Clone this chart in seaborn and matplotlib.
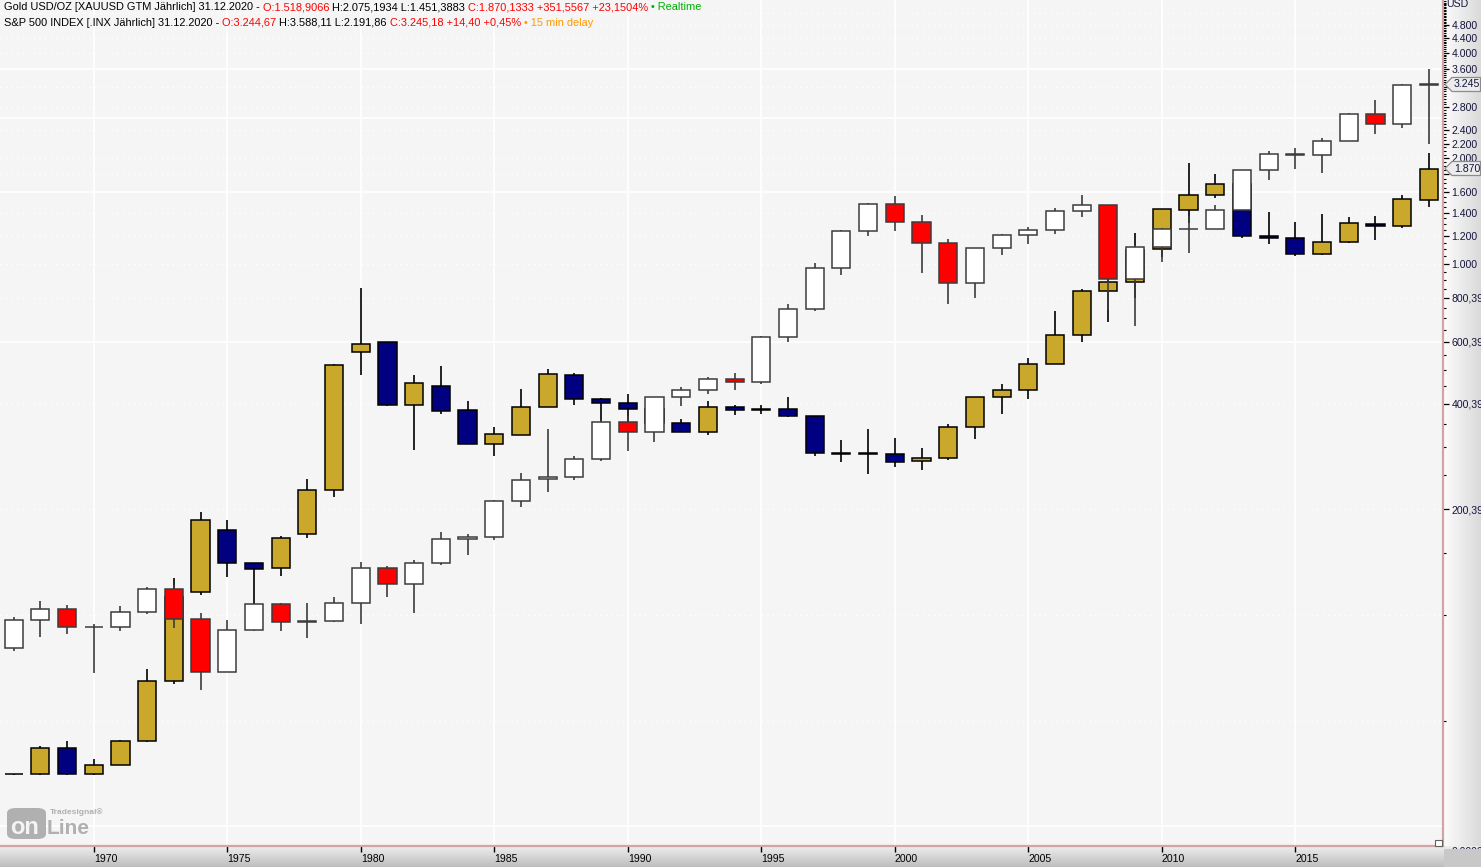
import matplotlib
matplotlib.use("Agg")
import numpy as np
import pandas as pd
import seaborn as sns
import matplotlib.pyplot as plt
from matplotlib.patches import Polygon, Rectangle, FancyBboxPatch
from matplotlib.colors import LinearSegmentedColormap

# ---------------- data (yearly candles) ----------------
years = list(range(1967, 2021))

gold_open = [35.2, 35.2, 41.9, 35.2, 37.4, 43.6, 64.9, 116.0, 175.0, 140.3,
             135.9, 169.8, 226.6, 560.0, 598.0, 395.8, 449.0, 383.0, 307.5, 326.0,
             390.0, 484.0, 411.0, 401.0, 386.0, 353.0, 331.0, 391.0, 383.0, 387.0,
             369.0, 289.0, 288.0, 288.0, 274.0, 279.7, 342.6, 417.4, 437.0, 518.0,
             627.0, 836.0, 887.0, 1101.0, 1425.0, 1571.0, 1688.0, 1205.0, 1184.0, 1066.0,
             1153.0, 1302.0, 1281.0, 1518.9]
gold_high = [35.3, 42.4, 43.7, 38.8, 43.9, 70.0, 127.0, 196.0, 186.0, 140.5,
             168.0, 244.0, 518.0, 852.0, 600.0, 483.0, 512.0, 407.0, 343.0, 440.5,
             503.0, 487.5, 416.0, 426.5, 403.0, 362.0, 406.0, 396.0, 397.0, 417.0,
             369.5, 315.0, 338.6, 318.6, 298.6, 350.0, 417.4, 455.0, 539.5, 734.5,
             848.0, 1011.0, 1227.0, 1433.0, 1934.0, 1802.0, 1696.0, 1405.0, 1315.0, 1390.0,
             1357.0, 1366.0, 1571.0, 2075.2]
gold_low = [35.1, 35.0, 35.0, 34.9, 37.3, 43.5, 63.5, 114.0, 128.5, 105.0,
            129.4, 166.0, 217.0, 481.0, 393.0, 295.0, 372.5, 307.5, 284.0, 326.0,
            390.0, 395.3, 355.6, 346.0, 344.0, 331.0, 326.0, 370.0, 373.0, 367.5,
            283.0, 273.4, 252.8, 263.8, 258.4, 276.0, 318.0, 374.0, 411.0, 518.0,
            600.0, 685.0, 801.0, 1044.0, 1308.0, 1540.0, 1187.0, 1138.0, 1052.0, 1060.0,
            1150.0, 1168.0, 1267.0, 1451.4]
gold_close = [35.2, 41.9, 35.2, 37.4, 43.6, 64.9, 112.3, 186.5, 140.2, 134.8,
              165.4, 226.6, 514.0, 590.0, 397.5, 457.3, 382.0, 307.7, 327.4, 391.0,
              485.0, 411.0, 401.0, 387.0, 353.0, 333.0, 391.0, 383.0, 387.0, 369.0,
              289.0, 288.0, 288.5, 272.6, 279.7, 342.6, 417.4, 437.0, 518.0, 627.0,
              836.0, 887.0, 1096.0, 1432.0, 1571.0, 1688.0, 1204.0, 1184.0, 1066.0, 1153.0,
              1306.0, 1281.0, 1530.0, 1870.1]

spx_open = [80.4, 96.6, 103.9, 92.5, 92.6, 101.9, 118.4, 97.6, 68.7, 90.4,
            107.3, 95.7, 96.1, 108.0, 135.9, 122.6, 140.6, 164.9, 167.2, 211.3,
            244.4, 246.8, 277.9, 354.0, 331.0, 417.0, 437.0, 469.4, 460.0, 619.0,
            743.0, 972.0, 1239.0, 1480.0, 1320.0, 1148.0, 879.8, 1111.9, 1211.9, 1248.3,
            1418.3, 1468.4, 903.3, 1115.1, 1257.6, 1257.6, 1426.2, 1848.4, 2058.9, 2043.9,
            2238.8, 2673.6, 2506.9, 3244.67]
spx_high = [98.6, 109.7, 106.7, 94.2, 106.0, 120.4, 121.7, 101.4, 96.8, 107.8,
            108.0, 108.0, 112.2, 141.4, 138.1, 143.0, 172.7, 170.4, 212.0, 254.0,
            338.8, 283.7, 359.8, 369.8, 417.1, 446.0, 475.0, 489.0, 624.0, 770.0,
            1007.0, 1252.0, 1496.0, 1563.0, 1383.0, 1177.0, 1112.6, 1217.3, 1273.0, 1440.0,
            1576.1, 1471.8, 1130.4, 1262.6, 1370.6, 1474.5, 1849.0, 2093.6, 2134.7, 2277.5,
            2695.0, 2940.9, 3247.9, 3588.11]
spx_low = [78.9, 86.7, 88.3, 68.5, 89.7, 100.9, 91.5, 61.0, 68.6, 90.0,
           89.8, 86.1, 95.4, 94.1, 112.8, 101.4, 138.3, 147.8, 163.4, 203.5,
           224.0, 243.0, 275.0, 293.0, 310.7, 393.7, 425.0, 437.0, 455.0, 600.0,
           734.0, 927.0, 1198.0, 1245.0, 945.0, 768.6, 800.7, 1060.7, 1137.0, 1219.0,
           1364.0, 741.0, 666.8, 1010.9, 1074.8, 1258.9, 1426.2, 1737.9, 1867.0, 1810.1,
           2245.1, 2346.6, 2444.0, 2191.86]
spx_close = [96.6, 103.8, 92.5, 92.6, 101.9, 118.4, 97.6, 68.7, 90.4, 107.3,
             95.7, 96.1, 108.0, 135.9, 122.6, 140.6, 164.9, 167.2, 211.3, 242.2,
             246.8, 277.9, 354.0, 331.0, 417.0, 437.0, 469.4, 460.0, 619.0, 743.0,
             972.0, 1239.0, 1480.0, 1320.0, 1148.0, 879.8, 1111.9, 1211.9, 1248.3, 1418.3,
             1468.4, 903.3, 1115.1, 1257.6, 1257.6, 1426.2, 1848.4, 2058.9, 2043.9, 2238.8,
             2673.6, 2506.9, 3230.8, 3245.18]

x_tick_years = [1970, 1975, 1980, 1985, 1990, 1995, 2000, 2005, 2010, 2015]
y_label_values = [4800, 4400, 4000, 3600, 3200, 2800, 2400, 2200, 2000, 1800,
                  1600, 1400, 1200, 1000, 800, 600, 400, 200]
y_label_texts = ["4.800", "4.400", "4.000", "3.600", "", "2.800", "2.400", "2.200",
                 "2.000", "", "1.600", "1.400", "1.200", "1.000", "800,39",
                 "600,39", "400,39", "200,39"]
grid_solid_values = [25, 600, 1600, 2600, 3600]
grid_dotted_values = [50, 100, 200, 400, 800, 1000, 1200, 1400, 1800, 2000, 2400,
                      2800, 3200, 4000, 4400, 4800, 5200]
last_gold = 1870.1333
last_spx = 3245.18

header1 = [("Gold USD/OZ [XAUUSD GTM Jährlich] 31.12.2020 - ", "#000000"),
           ("O:1.518,9066 ", "#FF0000"),
           ("H:2.075,1934 L:1.451,3883 ", "#000000"),
           ("C:1.870,1333 +351,5567 +23,1504% ", "#FF0000"),
           ("\u2022 Realtime", "#00B000")]
header2 = [("S&P 500 INDEX [.INX Jährlich] 31.12.2020 - ", "#000000"),
           ("O:3.244,67 ", "#FF0000"),
           ("H:3.588,11 L:2.191,86 ", "#000000"),
           ("C:3.245,18 +14,40 +0,45% ", "#FF0000"),
           ("\u2022 15 min delay", "#FF9900")]

# ---------------- styling ----------------
sns.set_theme(style="white")
FONT = ["Liberation Sans", "DejaVu Sans"]
plt.rcParams["font.family"] = FONT
FS = 7.6
FS_HEAD = 7.9

GOLD = "#C9A82B"
NAVY = "#000080"
RED = "#FF0000"
BG = "#F5F5F5"

W, H = 1481, 867
PLOT_R, PLOT_B = 1443, 846


def fx(x):
    return x / W


def fy(y):
    return 1 - y / H


fig = plt.figure(figsize=(W / 100, H / 100), dpi=100)
fig.patch.set_facecolor(BG)

# right axis panel gradient
rp = fig.add_axes([fx(PLOT_R), fy(PLOT_B), 1 - fx(PLOT_R), fy(0) - fy(PLOT_B)], zorder=0)
rp.imshow(np.linspace(0, 1, 64)[None, :],
          cmap=LinearSegmentedColormap.from_list("g", ["#FCFCFC", "#DADADA"]),
          aspect="auto", extent=[0, 1, 0, 1])
rp.axis("off")

# bottom panel gradient
bp = fig.add_axes([0, 0, 1, fy(PLOT_B)], zorder=0)
bp.imshow(np.linspace(0, 1, 32)[:, None],
          cmap=LinearSegmentedColormap.from_list("g2", ["#F0F0F0", "#BEBEBE"]),
          aspect="auto", extent=[0, 1, 0, 1])
bp.axis("off")

ax = fig.add_axes([0, fy(PLOT_B), fx(PLOT_R), 1 - fy(PLOT_B)], zorder=1)
ax.set_facecolor(BG)
ax.set_yscale("log")
ax.set_xlim(1966.49, 2020.53)
ax.set_ylim(21.96, 5649)

# grid
for yr in x_tick_years:
    ax.axvline(yr, color="white", lw=1.2, zorder=0.5)
for v in grid_solid_values:
    ax.axhline(v, color="white", lw=1.2, zorder=0.5)
for v in grid_dotted_values:
    ax.axhline(v, color="white", lw=1.0, ls=(0, (1, 3)), zorder=0.5)


def candles(o, h, l, c, up, dn, edge, z):
    df = pd.DataFrame({"year": years, "o": o, "h": h, "l": l, "c": c})
    ax.vlines(df["year"], df["l"], df["h"], color=edge, lw=1.2, zorder=z)
    bottom = np.minimum(df["o"], df["c"])
    top = np.maximum(df["o"], df["c"])
    cols = np.where(df["c"] >= df["o"], up, dn)
    ax.bar(df["year"], top - bottom, bottom=bottom, width=0.68, color=cols,
           edgecolor=edge, linewidth=1.1, zorder=z + 0.1)


candles(gold_open, gold_high, gold_low, gold_close, GOLD, NAVY, "#000000", 2)
candles(spx_open, spx_high, spx_low, spx_close, "#FFFFFF", RED, "#3C3C3C", 3)

# spines
for s in ["top", "left"]:
    ax.spines[s].set_visible(False)
for s in ["right", "bottom"]:
    ax.spines[s].set_visible(True)
    ax.spines[s].set_color("#D4A4A4")
    ax.spines[s].set_linewidth(1.6)

# x ticks
ax.set_xticks(x_tick_years, labels=[str(y) for y in x_tick_years])
ax.xaxis.set_minor_locator(matplotlib.ticker.NullLocator())
ax.tick_params(axis="x", which="major", bottom=True, length=4, width=1.0, color="#000000",
               direction="out", pad=1.5, labelsize=FS, labelcolor="#000000")
for lab in ax.get_xticklabels():
    lab.set_horizontalalignment("left")

# y ticks (right)
ax.yaxis.tick_right()
ax.set_yticks(y_label_values, labels=y_label_texts)
minor_vals = [v for v in range(50, 5650, 50) if v not in y_label_values]
ax.yaxis.set_minor_locator(matplotlib.ticker.FixedLocator(minor_vals))
ax.yaxis.set_minor_formatter(matplotlib.ticker.NullFormatter())
ax.tick_params(axis="y", which="major", right=True, left=False, length=4.5, width=0.9,
               color="#000000", direction="out", pad=1.5, labelsize=FS, labelcolor="#14143C")
ax.tick_params(axis="y", which="minor", right=True, left=False, length=2.2, width=0.8,
               color="#000000", direction="out")
ax.grid(False)

# last price markers on the right axis
for val, txt in [(last_spx, "3.245"), (last_gold, "1.870")]:
    yv = ax.transData.transform((2000, val))[1]
    pts_px = [(1445, 0), (1452, 7), (1480.5, 7), (1480.5, -7), (1452, -7)]
    pts = [(px / W, (yv + dy) / H) for px, dy in pts_px]
    poly = Polygon(pts, closed=True, transform=fig.transFigure, facecolor="#ECECEC",
                   edgecolor="#8C8C8C", lw=0.9, zorder=4)
    fig.add_artist(poly)
    fig.text(fx(1454), yv / H, txt, fontsize=FS, color="#14143C", va="center",
             ha="left", zorder=5)

# bottom right corner + cut zero label
fig.text(fx(1452), fy(851), "0,0000", fontsize=FS, color="#14143C", va="center",
         ha="left", zorder=2)
fig.add_artist(Rectangle((fx(PLOT_R) + 0.5 / W, 0), 1, fy(848.5), transform=fig.transFigure,
                         facecolor="#C8C8C8", edgecolor="none", zorder=3))
fig.text(fx(1446), fy(4), "USD", fontsize=FS, color="#14143C", va="center", ha="left", zorder=5)

# resize glyph
fig.add_artist(Rectangle((fx(1435), fy(846)), 7 / W, 6 / H, transform=fig.transFigure,
                         facecolor="white", edgecolor="#606060", lw=0.8, zorder=4))

# logo watermark
fig.add_artist(FancyBboxPatch((fx(7), fy(839)), 39 / W, 31 / H,
                              boxstyle="round,pad=0,rounding_size=0.006",
                              transform=fig.transFigure, facecolor="#B0B0B0",
                              edgecolor="none", zorder=4))
fig.text(fx(10), fy(827), "on", fontsize=17, fontweight="bold", color="#F4F4F4",
         va="center", ha="left", zorder=5)
fig.text(fx(47), fy(829), "Line", fontsize=15, fontweight="bold", color="#B0B0B0",
         va="center", ha="left", zorder=5)
fig.text(fx(50), fy(812), "Tradesignal\u00ae", fontsize=6.0, fontweight="bold",
         color="#B0B0B0", va="center", ha="left", zorder=5)

# header lines (multi-coloured)
fig.canvas.draw()
renderer = fig.canvas.get_renderer()


def segments(segs, x0, ycen):
    x = x0
    for txt, col in segs:
        t = fig.text(fx(x), fy(ycen), txt, color=col, fontsize=FS_HEAD, va="center",
                     ha="left", zorder=6)
        bb = t.get_window_extent(renderer=renderer)
        x += bb.width


segments(header1, 4, 7.5)
segments(header2, 4, 22.5)

fig.savefig("out.png", dpi=100, facecolor=fig.get_facecolor())
